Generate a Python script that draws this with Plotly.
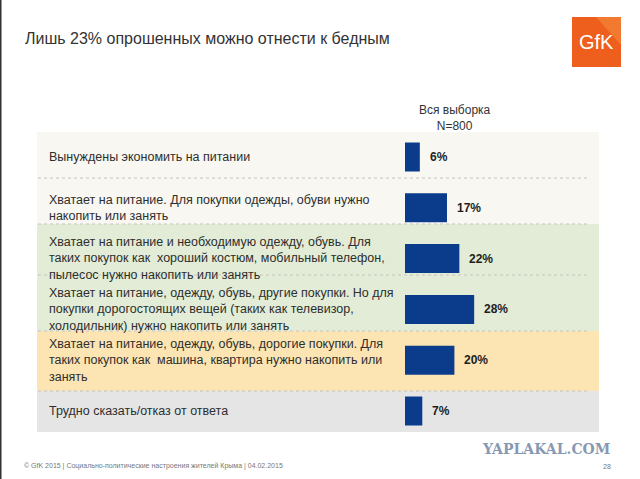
import plotly.graph_objects as go

W, H = 640, 479

title = "Лишь 23% опрошенных можно отнести к бедным"
header = "Вся выборка<br>N=800"
categories = [
    "Вынуждены экономить на питании",
    "Хватает на питание. Для покупки одежды, обуви нужно<br>накопить или занять",
    "Хватает на питание и необходимую одежду, обувь. Для<br>таких покупок как  хороший костюм, мобильный телефон,<br>пылесос нужно накопить или занять",
    "Хватает на питание, одежду, обувь, другие покупки. Но для<br>покупки дорогостоящих вещей (таких как телевизор,<br>холодильник) нужно накопить или занять",
    "Хватает на питание, одежду, обувь, дорогие покупки. Для<br>таких покупок как  машина, квартира нужно накопить или<br>занять",
    "Трудно сказать/отказ от ответа",
]
values = [6, 17, 22, 28, 20, 7]
footer = "© GfK 2015 | Социально-политические настроения жителей Крыма | 04.02.2015"
page_no = "28"
watermark = "YAPLAKAL.COM"

FONT = "Liberation Sans, Arial, sans-serif"
BAR = "#0b3c8c"
TXT = "#2e2e2e"


def px(x):
    return x / W


def py(y):
    return 1 - y / H


keys = list(range(len(categories)))

fig = go.Figure()
fig.add_trace(go.Bar(
    x=values, y=keys, orientation="h",
    marker=dict(color=BAR, line=dict(width=0)),
    width=0.57, hoverinfo="skip",
))

# background bands
bands = [
    (132, 178, "#f8f7f1"),
    (178, 224, "#f8f7f1"),
    (224, 275, "#e2ecd6"),
    (275, 331, "#e2ecd6"),
    (331, 391, "#fce5b2"),
    (391, 432, "#e5e5e6"),
]
shapes = []
for y0, y1, c in bands:
    shapes.append(dict(type="rect", xref="paper", yref="paper",
                       x0=px(37), x1=px(599), y0=py(y1), y1=py(y0),
                       fillcolor=c, line=dict(width=0), layer="below"))
for yy in [178, 224, 275, 331, 391]:
    shapes.append(dict(type="line", xref="paper", yref="paper",
                       x0=px(38), x1=px(588), y0=py(yy), y1=py(yy),
                       line=dict(color="#c4c4c0", width=1, dash="dot"), layer="below"))
# left border
shapes.append(dict(type="line", xref="paper", yref="paper",
                   x0=px(0.75), x1=px(0.75), y0=0, y1=1,
                   line=dict(color="#333333", width=1.5)))
# GfK logo
shapes.append(dict(type="rect", xref="paper", yref="paper",
                   x0=px(572), x1=px(621), y0=py(67), y1=py(17),
                   fillcolor="#ee5f1e", line=dict(width=0)))
shapes.append(dict(type="path", xref="paper", yref="paper",
                   path=f"M {px(596)} {py(17)} L {px(621)} {py(17)} L {px(621)} {py(45)} Z",
                   fillcolor="#f58a3c", opacity=0.6, line=dict(width=0)))

annotations = []
for k, lab in zip(keys, categories):
    annotations.append(dict(xref="paper", yref="y", x=px(47), y=k,
                            text=lab, showarrow=False, xanchor="left", yanchor="middle",
                            align="left", font=dict(family=FONT, size=12.5, color=TXT)))
for k, v in zip(keys, values):
    annotations.append(dict(xref="x", yref="y", x=v, y=k, text=f"<b>{v}%</b>",
                            showarrow=False, xanchor="left", yanchor="middle",
                            xshift=8, font=dict(family=FONT, size=12, color="#1e1e1e")))

annotations += [
    dict(xref="paper", yref="paper", x=px(23), y=py(38), text=title, showarrow=False,
         xanchor="left", yanchor="middle", font=dict(family=FONT, size=16, color="#333333")),
    dict(xref="paper", yref="paper", x=px(455), y=py(118), text=header, showarrow=False,
         xanchor="center", yanchor="middle", align="center",
         font=dict(family=FONT, size=12, color="#333333")),
    dict(xref="paper", yref="paper", x=px(596.5), y=py(42), text="GfK", showarrow=False,
         xanchor="center", yanchor="middle",
         font=dict(family="Liberation Sans Narrow, Liberation Sans, Arial", size=20, color="#ffffff")),
    dict(xref="paper", yref="paper", x=px(22), y=py(466), text=footer, showarrow=False,
         xanchor="left", yanchor="middle", font=dict(family=FONT, size=7, color="#777777")),
    dict(xref="paper", yref="paper", x=px(613), y=py(466), text=page_no, showarrow=False,
         xanchor="right", yanchor="middle", font=dict(family=FONT, size=7, color="#777777")),
    dict(xref="paper", yref="paper", x=px(612), y=py(449), text=f"<b>{watermark}</b>",
         showarrow=False, xanchor="right", yanchor="middle",
         font=dict(family="DejaVu Serif, serif", size=14, color="#8799b2")),
]

XSCALE = 2.47  # px per percent
fig.update_layout(
    width=W, height=H,
    margin=dict(l=0, r=0, t=0, b=0),
    paper_bgcolor="#ffffff", plot_bgcolor="rgba(0,0,0,0)",
    showlegend=False,
    xaxis=dict(domain=[px(405), px(600)], range=[0, 195 / XSCALE],
               visible=False, fixedrange=True),
    yaxis=dict(domain=[py(436.4), py(131.6)], range=[5.5, -0.5],
               visible=False, fixedrange=True),
    shapes=shapes, annotations=annotations,
)

fig.write_html("out.html", config={"displayModeBar": False})

# remove the default page margin so the figure sits at the window's origin
with open("out.html", encoding="utf-8") as f:
    html = f.read()
html = html.replace("<head>", "<head><style>html,body{margin:0;padding:0;overflow:hidden;}</style>", 1)
with open("out.html", "w", encoding="utf-8") as f:
    f.write(html)
